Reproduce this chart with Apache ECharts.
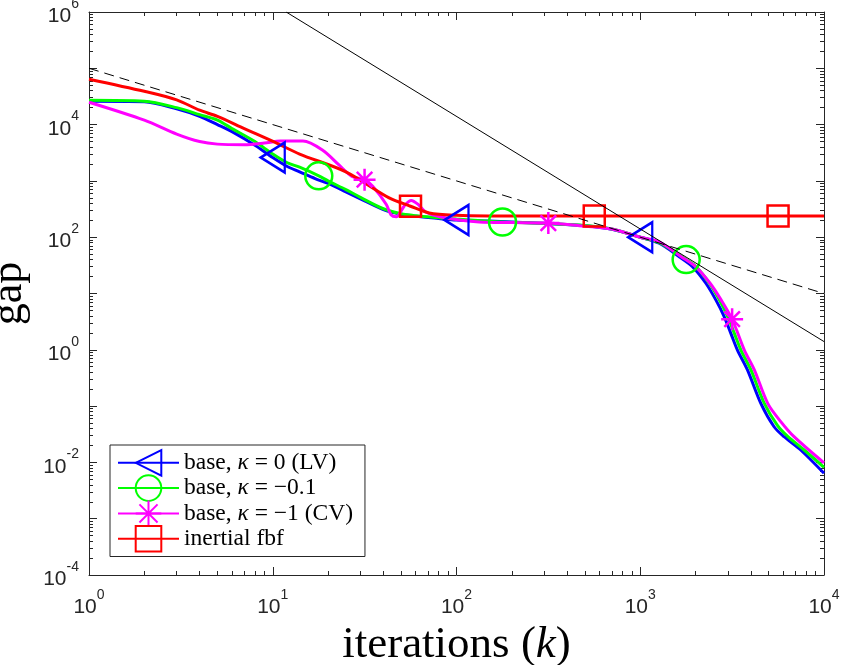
<!DOCTYPE html>
<html>
<head>
<meta charset="utf-8">
<script src="https://cdn.jsdelivr.net/npm/echarts@6/dist/echarts.min.js"></script>
<style>
  html, body { margin: 0; padding: 0; background: #fff; }
  #chart { width: 842px; height: 665px; }
</style>
</head>
<body>
<div id="chart"></div>
<script>
// iterations k and gap values
const kBlue = [1, 2, 3, 4, 5, 6, 8, 10, 12, 14, 17, 20, 25, 30, 40, 50, 60, 80, 100, 150, 200, 300, 500, 700, 1000, 1268, 1629, 1924, 2275, 2578, 2862, 3112, 3380, 3832, 4531, 5349, 6064, 7469, 10000]
const gapBlue = [2.6e4, 2.55e4, 1.9e4, 1.4e4, 1.0e4, 7.5e3, 4.3e3, 2.6e3, 1.8e3, 1.45e3, 1.1e3, 900, 640, 480, 310, 255, 235, 215, 202, 193, 186, 177, 160, 138, 100, 78, 45, 30, 15.2, 7.7, 3.9, 1.96, 0.99, 0.44, 0.112, 0.043, 0.0286, 0.0166, 0.0064]
const markBlue = [10, 100, 1000]

const kGreen = [1, 2, 3, 4, 5, 6, 8, 10, 12, 14, 17.8, 20, 25, 30, 40, 50, 60, 80, 100, 178, 300, 500, 700, 1000, 1268, 1500, 1778, 2010, 2378, 2694, 2991, 3252, 3532, 4004, 4735, 5590, 6340, 7800, 10000]
const gapGreen = [2.7e4, 2.6e4, 2.0e4, 1.5e4, 1.2e4, 8.5e3, 5.0e3, 3.0e3, 2.1e3, 1.75e3, 1230, 1000, 700, 510, 320, 260, 240, 222, 210, 186, 176, 162, 140, 100, 80, 58, 40, 30, 15.2, 7.7, 3.9, 1.96, 0.99, 0.44, 0.112, 0.045, 0.029, 0.0166, 0.0082]
const markGreen = [17.8, 178, 1778]

const kMagenta = [1, 2, 3, 4, 5, 7, 9, 11, 14.6, 18.7, 23, 27, 31.6, 35, 41.5, 44, 47, 52, 56.7, 62, 68, 81, 133, 200, 316, 466, 700, 1000, 1268, 1671, 2000, 2399, 2754, 3162, 3684, 4177, 4939, 5817, 6869, 10000]
const gapMagenta = [2.5e4, 1.2e4, 6.8e3, 5.0e3, 4.5e3, 4.4e3, 4.7e3, 5.1e3, 5.1e3, 3.5e3, 1.9e3, 1.2e3, 1.05e3, 800, 380, 250, 230, 360, 450, 380, 280, 230, 186, 182, 178, 160, 140, 100, 83, 45, 30, 15.2, 7.7, 3.5, 0.99, 0.44, 0.112, 0.053, 0.0286, 0.0098]
const markMagenta = [31.6, 316, 3162]

const kRed = [1, 2, 3, 4, 5, 7, 10.5, 14, 25, 43, 56.2, 71, 100, 150, 562, 5623, 10000]
const gapRed = [6.4e4, 3.9e4, 2.75e4, 1.8e4, 1.4e4, 8.5e3, 4.7e3, 3.0e3, 1.45e3, 500, 355, 270, 245, 239, 238, 238, 238]
const markRed = [56.2, 562, 5623]

// reference slopes
const kDash = [1, 10000]
const gapDash = [1e5, 10]
const kSolid = [11.83, 10000]
const gapSolid = [1e6, 1.4]

const names = ['base, κ = 0 (LV)', 'base, κ = −0.1', 'base, κ = −1 (CV)', 'inertial fbf']
const xLabelTicks = [1, 10, 100, 1000, 10000]
const yLabelTicks = [1e-4, 1e-2, 1, 1e2, 1e4, 1e6]

const axisColor = '#262626'
const tickFont = '"Liberation Sans Narrow", "Liberation Sans", Arial, sans-serif'
const asterisk = 'path://M10 0L10 20M0 10L20 10M2.93 2.93L17.07 17.07M2.93 17.07L17.07 2.93'

function points(k, g, marks) {
  return k.map((x, i) => {
    const item = { value: [x, g[i]] }
    if (!marks.includes(x)) item.symbol = 'none'
    return item
  })
}

function curve(name, k, g, marks, color, symbol, size, rotate) {
  return {
    name,
    type: 'line',
    data: points(k, g, marks),
    smooth: 0.3,
    showSymbol: true,
    showAllSymbol: true,
    symbol,
    symbolSize: size,
    symbolRotate: rotate || 0,
    lineStyle: { color, width: 3 },
    itemStyle: { color: 'rgba(0,0,0,0)', borderColor: color, borderWidth: 2.5 },
    emphasis: { disabled: true },
    z: 2
  }
}

function refLine(k, g, type) {
  return {
    type: 'line',
    data: k.map((x, i) => [x, g[i]]),
    symbol: 'none',
    lineStyle: { color: '#000', width: 1, type },
    emphasis: { disabled: true },
    silent: true,
    z: 3
  }
}

function pow10Label(v, list) {
  const e = Math.round(Math.log10(v))
  if (!list.some(t => Math.abs(Math.log10(t) - e) < 1e-6)) return ''
  return '{b|10}{s|' + e + '}'
}

const labelRich = {
  b: { fontFamily: tickFont, fontSize: 21, color: axisColor, lineHeight: 30, verticalAlign: 'bottom' },
  s: { fontFamily: tickFont, fontSize: 14, color: axisColor, lineHeight: 30, verticalAlign: 'top' }
}

function logAxis(extra) {
  return Object.assign({
    type: 'log',
    logBase: 10,
    axisLine: { show: true, lineStyle: { color: axisColor, width: 1 } },
    axisTick: { show: true, inside: true, length: 8, lineStyle: { color: axisColor } },
    minorTick: { show: true, splitNumber: 9, length: 4, lineStyle: { color: axisColor } },
    splitLine: { show: false },
    minorSplitLine: { show: false }
  }, extra)
}

const chart = echarts.init(document.getElementById('chart'), null, { renderer: 'canvas' })

chart.setOption({
  animation: false,
  backgroundColor: '#fff',
  grid: { left: 89, right: 18, top: 12, bottom: 90, outerBoundsMode: 'none', containLabel: false },
  xAxis: [
    logAxis({
      min: 1, max: 10000, splitNumber: 4,
      axisLabel: { margin: 13, formatter: v => pow10Label(v, xLabelTicks), rich: labelRich },
      name: 'iterations ({i|k})',
      nameLocation: 'middle',
      nameGap: 46,
      nameTextStyle: {
        fontFamily: 'Liberation Serif', fontSize: 45, color: '#000',
        rich: { i: { fontFamily: 'Liberation Serif', fontStyle: 'italic', fontSize: 45, color: '#000' } }
      }
    }),
    logAxis({ min: 1, max: 10000, splitNumber: 4, position: 'top', axisLabel: { show: false } })
  ],
  yAxis: [
    logAxis({
      min: 1e-4, max: 1e6, splitNumber: 10,
      axisLabel: { margin: 10, formatter: v => pow10Label(v, yLabelTicks), rich: labelRich },
      name: 'gap',
      nameLocation: 'middle',
      nameRotate: 90,
      nameGap: 58,
      nameTextStyle: { fontFamily: 'Liberation Serif', fontSize: 44, color: '#000' }
    }),
    logAxis({ min: 1e-4, max: 1e6, splitNumber: 10, position: 'right', axisLabel: { show: false } })
  ],
  legend: {
    data: names,
    orient: 'vertical',
    left: 110,
    top: 445,
    itemWidth: 61,
    itemHeight: 32,
    itemGap: -2.3,
    padding: [4, 12, 4, 7],
    borderColor: axisColor,
    borderWidth: 1,
    backgroundColor: '#fff',
    selectedMode: false,
    formatter: name => name.replace('κ', '{i|κ}'),
    textStyle: {
      fontFamily: 'Liberation Serif', fontSize: 23.5, lineHeight: 24, color: '#000',
      rich: { i: { fontFamily: 'Liberation Serif', fontStyle: 'italic', fontSize: 23.5, lineHeight: 24, color: '#000' } }
    }
  },
  series: [
    curve(names[0], kBlue, gapBlue, markBlue, '#0000ff', 'triangle', [30, 24], 90),
    curve(names[1], kGreen, gapGreen, markGreen, '#00ff00', 'circle', 27),
    curve(names[2], kMagenta, gapMagenta, markMagenta, '#ff00ff', asterisk, 22),
    curve(names[3], kRed, gapRed, markRed, '#ff0000', 'rect', 21),
    refLine(kDash, gapDash, [10, 6]),
    refLine(kSolid, gapSolid, 'solid')
  ]
})
</script>
</body>
</html>
